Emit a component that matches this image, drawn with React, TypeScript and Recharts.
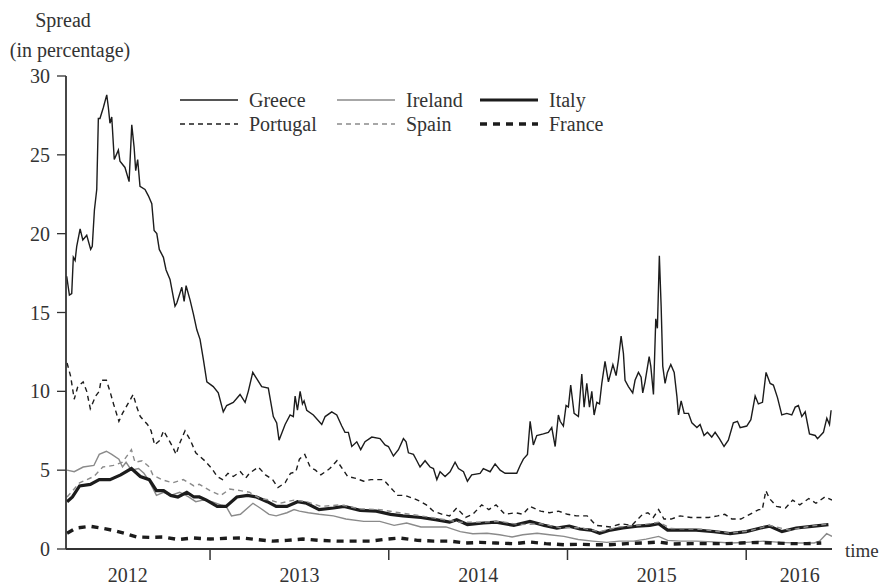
import React from 'react';
import { LineChart, Line, XAxis, YAxis } from 'recharts';

const FONT = 'Liberation Serif';
const TEXT = '#333333';
const BLACK = '#1c1c1c';
const GRAY = '#8a8a8a';

const yTicks = [0, 5, 10, 15, 20, 25, 30];
const yearLabels = ['2012', '2013', '2014', '2015', '2016'];
const yearLabelPos = [2012.54, 2013.5, 2014.5, 2015.5, 2016.3];
const yearBoundaries = [2013, 2014, 2015, 2016];
const xDomain = [2012.194, 2016.48];

const greece: number[][] = [[2012.198,17.3],[2012.213,16.1],[2012.226,16.2],[2012.235,18.5],[2012.245,18.3],[2012.254,19.2],[2012.273,20.3],[2012.288,19.6],[2012.310,19.9],[2012.332,19.0],[2012.341,19.2],[2012.353,21.5],[2012.366,22.8],[2012.375,27.3],[2012.384,27.3],[2012.403,28.0],[2012.422,28.8],[2012.431,28.0],[2012.440,27.0],[2012.450,27.4],[2012.464,24.7],[2012.487,25.3],[2012.496,24.6],[2012.524,24.2],[2012.547,23.3],[2012.562,26.9],[2012.575,25.5],[2012.584,24.0],[2012.595,24.7],[2012.608,23.0],[2012.636,22.8],[2012.655,22.4],[2012.674,21.9],[2012.687,20.2],[2012.702,20.0],[2012.716,19.0],[2012.739,18.5],[2012.754,17.7],[2012.776,17.1],[2012.804,15.4],[2012.814,15.6],[2012.842,16.6],[2012.855,15.7],[2012.866,16.7],[2012.888,15.8],[2012.907,14.9],[2012.926,13.9],[2012.944,13.3],[2012.963,12.0],[2012.982,10.6],[2013.018,10.3],[2013.046,9.9],[2013.074,8.7],[2013.093,9.1],[2013.130,9.3],[2013.168,9.8],[2013.196,9.3],[2013.214,10.0],[2013.239,11.2],[2013.261,10.8],[2013.289,10.3],[2013.326,10.2],[2013.354,8.4],[2013.373,8.0],[2013.386,6.9],[2013.420,7.9],[2013.448,8.5],[2013.466,8.4],[2013.476,9.7],[2013.489,8.8],[2013.504,10.0],[2013.517,9.2],[2013.526,9.4],[2013.541,8.8],[2013.578,8.5],[2013.625,7.9],[2013.644,8.4],[2013.681,8.7],[2013.709,8.5],[2013.737,7.8],[2013.755,7.4],[2013.774,7.4],[2013.793,6.5],[2013.821,6.8],[2013.843,6.3],[2013.867,6.8],[2013.905,7.1],[2013.951,7.0],[2013.979,6.6],[2013.998,6.5],[2014.026,5.9],[2014.054,6.3],[2014.082,7.0],[2014.097,6.8],[2014.110,6.1],[2014.138,6.0],[2014.157,5.6],[2014.175,5.2],[2014.203,5.6],[2014.231,5.2],[2014.250,5.1],[2014.269,4.4],[2014.287,4.9],[2014.315,4.6],[2014.343,4.9],[2014.371,5.5],[2014.390,5.1],[2014.418,4.9],[2014.440,4.3],[2014.464,4.7],[2014.511,4.8],[2014.529,5.1],[2014.567,4.9],[2014.595,5.4],[2014.623,5.0],[2014.651,4.8],[2014.679,4.8],[2014.716,4.8],[2014.735,5.3],[2014.753,5.7],[2014.776,6.0],[2014.791,8.1],[2014.809,6.6],[2014.828,7.2],[2014.865,7.3],[2014.893,7.4],[2014.912,7.7],[2014.931,6.5],[2014.949,8.5],[2014.959,8.1],[2014.977,7.8],[2014.992,9.1],[2015.005,9.0],[2015.018,10.4],[2015.037,8.6],[2015.061,8.4],[2015.080,11.1],[2015.093,9.0],[2015.108,10.5],[2015.123,9.0],[2015.136,10.0],[2015.149,8.5],[2015.164,9.3],[2015.179,9.2],[2015.192,10.5],[2015.210,11.9],[2015.229,10.6],[2015.254,11.7],[2015.272,11.0],[2015.285,12.0],[2015.300,13.5],[2015.313,12.4],[2015.322,10.7],[2015.341,10.3],[2015.365,9.9],[2015.378,10.7],[2015.397,11.2],[2015.412,10.9],[2015.421,9.9],[2015.434,10.6],[2015.457,12.2],[2015.466,11.6],[2015.481,9.8],[2015.494,14.6],[2015.503,14.0],[2015.514,18.6],[2015.524,15.4],[2015.533,11.6],[2015.546,10.5],[2015.559,11.2],[2015.578,11.7],[2015.597,11.2],[2015.612,9.7],[2015.621,8.5],[2015.636,9.4],[2015.653,8.6],[2015.677,8.6],[2015.696,8.0],[2015.724,7.7],[2015.742,7.9],[2015.764,7.2],[2015.783,7.4],[2015.807,7.1],[2015.826,7.4],[2015.850,7.0],[2015.876,6.5],[2015.900,6.9],[2015.928,8.0],[2015.951,8.1],[2015.966,7.7],[2016.003,7.8],[2016.026,8.2],[2016.050,9.7],[2016.068,9.2],[2016.091,9.3],[2016.111,11.2],[2016.134,10.5],[2016.152,10.4],[2016.175,9.6],[2016.199,8.5],[2016.227,8.6],[2016.255,8.5],[2016.274,9.0],[2016.292,9.1],[2016.311,8.4],[2016.330,8.7],[2016.354,7.3],[2016.386,7.2],[2016.399,7.0],[2016.432,7.4],[2016.451,8.3],[2016.466,7.9],[2016.475,8.8]];

const portugal: number[][] = [[2012.20,11.8],[2012.22,10.95],[2012.24,9.5],[2012.26,10.3],[2012.29,10.6],[2012.31,10.0],[2012.33,8.9],[2012.36,9.7],[2012.38,10.0],[2012.39,10.7],[2012.42,10.7],[2012.44,10.0],[2012.46,9.2],[2012.49,8.1],[2012.51,8.6],[2012.54,9.2],[2012.57,9.8],[2012.59,9.0],[2012.61,8.4],[2012.65,7.9],[2012.67,7.5],[2012.69,6.6],[2012.72,6.9],[2012.74,7.5],[2012.77,6.9],[2012.79,6.5],[2012.81,6.0],[2012.83,6.7],[2012.86,7.5],[2012.89,6.9],[2012.92,6.1],[2012.94,5.9],[2012.97,5.6],[2013.01,5.1],[2013.04,4.6],[2013.07,4.4],[2013.10,4.8],[2013.13,4.6],[2013.17,4.9],[2013.20,4.5],[2013.22,4.8],[2013.27,5.2],[2013.31,4.7],[2013.35,4.4],[2013.38,3.9],[2013.42,4.2],[2013.45,4.8],[2013.48,4.9],[2013.50,5.7],[2013.53,6.0],[2013.56,5.2],[2013.59,5.0],[2013.62,4.7],[2013.67,5.1],[2013.71,5.6],[2013.74,5.1],[2013.77,4.6],[2013.81,4.5],[2013.86,4.3],[2013.90,4.4],[2013.97,4.4],[2014.01,3.9],[2014.05,3.4],[2014.09,3.4],[2014.14,3.2],[2014.18,3.0],[2014.21,2.8],[2014.25,2.4],[2014.30,2.2],[2014.34,2.1],[2014.38,2.6],[2014.43,2.0],[2014.47,2.2],[2014.52,2.8],[2014.56,2.5],[2014.60,2.8],[2014.65,2.2],[2014.71,2.3],[2014.75,2.2],[2014.79,2.7],[2014.85,2.4],[2014.90,2.3],[2014.95,2.4],[2015.00,2.2],[2015.05,2.1],[2015.11,2.1],[2015.16,1.5],[2015.24,1.4],[2015.30,1.6],[2015.36,1.5],[2015.42,2.2],[2015.45,2.3],[2015.48,2.0],[2015.51,2.5],[2015.54,1.9],[2015.58,1.9],[2015.63,2.1],[2015.69,2.0],[2015.73,2.0],[2015.79,2.0],[2015.84,2.1],[2015.88,2.2],[2015.92,1.9],[2015.97,1.9],[2016.02,2.2],[2016.07,2.5],[2016.09,2.5],[2016.11,3.7],[2016.13,3.2],[2016.17,2.7],[2016.22,2.6],[2016.26,3.1],[2016.30,2.8],[2016.35,3.2],[2016.39,2.9],[2016.44,3.3],[2016.48,3.1]];

const ireland: number[][] = [[2012.20,5.0],[2012.24,4.9],[2012.29,5.2],[2012.35,5.3],[2012.38,6.0],[2012.42,6.2],[2012.45,6.0],[2012.49,5.7],[2012.51,5.2],[2012.53,5.5],[2012.56,5.0],[2012.60,5.1],[2012.63,4.8],[2012.66,4.3],[2012.70,3.4],[2012.74,3.6],[2012.78,3.4],[2012.83,3.6],[2012.88,3.3],[2012.92,3.0],[2012.96,3.1],[2013.01,3.0],[2013.06,2.8],[2013.09,2.7],[2013.12,2.1],[2013.17,2.2],[2013.21,2.6],[2013.24,2.9],[2013.28,2.6],[2013.33,2.2],[2013.37,2.1],[2013.43,2.3],[2013.47,2.5],[2013.50,2.4],[2013.55,2.3],[2013.61,2.2],[2013.69,2.1],[2013.76,1.9],[2013.86,1.75],[2013.95,1.75],[2014.03,1.5],[2014.10,1.65],[2014.18,1.4],[2014.25,1.4],[2014.32,1.4],[2014.40,1.1],[2014.47,0.97],[2014.55,1.0],[2014.62,0.9],[2014.69,0.76],[2014.75,0.9],[2014.83,1.0],[2014.90,0.9],[2014.98,0.8],[2015.06,0.6],[2015.14,0.5],[2015.22,0.42],[2015.29,0.5],[2015.37,0.5],[2015.44,0.63],[2015.51,0.8],[2015.56,0.55],[2015.63,0.5],[2015.72,0.5],[2015.82,0.45],[2015.91,0.38],[2016.00,0.42],[2016.10,0.5],[2016.19,0.42],[2016.28,0.38],[2016.38,0.38],[2016.41,0.5],[2016.45,0.97],[2016.48,0.8]];

const italy: number[][] = [[2012.20,3.0],[2012.23,3.3],[2012.27,4.0],[2012.33,4.1],[2012.38,4.4],[2012.44,4.4],[2012.50,4.7],[2012.56,5.1],[2012.61,4.6],[2012.66,4.4],[2012.70,3.7],[2012.74,3.7],[2012.78,3.4],[2012.82,3.3],[2012.87,3.6],[2012.91,3.3],[2012.94,3.3],[2012.98,3.1],[2013.04,2.7],[2013.09,2.7],[2013.15,3.3],[2013.21,3.4],[2013.26,3.3],[2013.32,3.0],[2013.37,2.7],[2013.43,2.7],[2013.49,3.0],[2013.54,2.9],[2013.61,2.5],[2013.69,2.6],[2013.75,2.7],[2013.84,2.45],[2013.93,2.4],[2014.01,2.2],[2014.08,2.1],[2014.18,2.0],[2014.27,1.85],[2014.34,1.7],[2014.38,1.85],[2014.44,1.55],[2014.53,1.65],[2014.60,1.7],[2014.70,1.5],[2014.79,1.75],[2014.87,1.5],[2014.94,1.33],[2015.01,1.45],[2015.07,1.27],[2015.13,1.2],[2015.18,1.0],[2015.24,1.2],[2015.31,1.33],[2015.39,1.45],[2015.46,1.5],[2015.51,1.6],[2015.56,1.2],[2015.63,1.2],[2015.72,1.2],[2015.82,1.1],[2015.91,0.97],[2016.00,1.1],[2016.08,1.33],[2016.13,1.45],[2016.20,1.1],[2016.28,1.33],[2016.38,1.45],[2016.46,1.55]];

const spain: number[][] = [[2012.20,3.3],[2012.27,4.2],[2012.35,4.6],[2012.40,5.2],[2012.46,5.3],[2012.51,5.5],[2012.56,6.3],[2012.58,5.5],[2012.62,5.6],[2012.66,5.2],[2012.68,4.7],[2012.73,4.4],[2012.79,4.2],[2012.85,4.4],[2012.91,4.0],[2012.94,4.1],[2013.00,3.7],[2013.06,3.4],[2013.11,3.8],[2013.17,3.7],[2013.22,3.6],[2013.28,3.2],[2013.34,3.1],[2013.39,2.9],[2013.47,3.1],[2013.54,3.0],[2013.62,2.7],[2013.73,2.8],[2013.84,2.55],[2013.95,2.5],[2014.06,2.3],[2014.18,2.1],[2014.29,1.9],[2014.40,1.7],[2014.51,1.7],[2014.62,1.75],[2014.73,1.55],[2014.85,1.6],[2014.96,1.35],[2015.07,1.35],[2015.18,1.1],[2015.29,1.4],[2015.40,1.5],[2015.51,1.7],[2015.58,1.3],[2015.75,1.25],[2015.91,1.0],[2016.02,1.15],[2016.13,1.5],[2016.24,1.2],[2016.36,1.45],[2016.47,1.6]];

const france: number[][] = [[2012.20,1.0],[2012.25,1.33],[2012.33,1.44],[2012.39,1.33],[2012.46,1.18],[2012.52,1.0],[2012.59,0.76],[2012.66,0.74],[2012.74,0.76],[2012.82,0.6],[2012.91,0.7],[2013.00,0.63],[2013.09,0.68],[2013.18,0.7],[2013.26,0.6],[2013.35,0.5],[2013.43,0.55],[2013.52,0.63],[2013.61,0.55],[2013.71,0.5],[2013.80,0.5],[2013.90,0.5],[2013.99,0.63],[2014.06,0.7],[2014.16,0.55],[2014.25,0.5],[2014.34,0.5],[2014.43,0.38],[2014.51,0.42],[2014.60,0.38],[2014.70,0.34],[2014.79,0.44],[2014.88,0.34],[2014.98,0.27],[2015.07,0.3],[2015.14,0.27],[2015.24,0.27],[2015.33,0.34],[2015.42,0.38],[2015.51,0.44],[2015.59,0.32],[2015.69,0.34],[2015.78,0.34],[2015.88,0.34],[2015.97,0.38],[2016.06,0.42],[2016.15,0.38],[2016.25,0.34],[2016.34,0.34],[2016.42,0.38]];

const toRows = (arr: number[][]) => arr.map(([t, v]) => ({ t, v }));

const seriesNames = ['Greece', 'Ireland', 'Italy', 'Portugal', 'Spain', 'France'];
const seriesData = [greece, ireland, italy, portugal, spain, france];
const seriesStyle = [
  { stroke: BLACK, width: 1.4, dash: undefined },
  { stroke: GRAY, width: 1.4, dash: undefined },
  { stroke: BLACK, width: 3.2, dash: undefined },
  { stroke: BLACK, width: 1.4, dash: '5 4' },
  { stroke: GRAY, width: 1.4, dash: '5 4' },
  { stroke: BLACK, width: 3.4, dash: '7 6' },
];
// legend layout (columns x, rows y)
const legendCols = [180, 337, 480];
const legendRows = [100, 124];

const XTick = (props: any) => {
  const { x, y, payload } = props;
  const li = yearLabelPos.indexOf(payload.value);
  if (li >= 0) {
    return (
      <text x={x} y={y + 33} textAnchor="middle" style={{ fontFamily: FONT, fontSize: 20 }} fill={TEXT}>
        {yearLabels[li]}
      </text>
    );
  }
  return <line x1={x} y1={y} x2={x} y2={y + 11} stroke="#333" strokeWidth={1.5} />;
};

const abs = (left: number, top: number, extra: any = {}) => ({
  position: 'absolute' as const,
  left,
  top,
  fontFamily: FONT,
  fontSize: 20,
  color: TEXT,
  lineHeight: 1,
  whiteSpace: 'nowrap' as const,
  ...extra,
});

export default function App() {
  return (
    <div style={{ position: 'relative', width: 884, height: 587, background: '#fff', fontFamily: FONT }}>
      <style>{'body{margin:0;}'}</style>
      <LineChart width={884} height={587} margin={{ top: 76, right: 52, bottom: 0, left: 0 }} style={{ fontFamily: FONT }}>
        <XAxis
          type="number"
          dataKey="t"
          domain={xDomain}
          allowDataOverflow
          ticks={[...yearLabelPos, ...yearBoundaries].sort((a, b) => a - b)}
          interval={0}
          tick={<XTick />}
          tickLine={false}
          tickSize={0}
          tickMargin={0}
          height={38}
          axisLine={{ stroke: '#333', strokeWidth: 1.8 }}
        />
        <YAxis
          type="number"
          domain={[0, 30]}
          ticks={yTicks}
          interval={0}
          width={66}
          tickSize={9}
          tickMargin={7}
          tick={{ fontFamily: FONT, fontSize: 20, fill: TEXT, style: { fontFamily: FONT } }}
          tickLine={{ stroke: '#333', strokeWidth: 1.3 }}
          axisLine={{ stroke: '#333', strokeWidth: 1.8 }}
        />
        {seriesNames.map((name, i) => (
          <Line
            key={name}
            name={name}
            data={toRows(seriesData[i])}
            dataKey="v"
            type="linear"
            stroke={seriesStyle[i].stroke}
            strokeWidth={seriesStyle[i].width}
            strokeDasharray={seriesStyle[i].dash}
            dot={false}
            activeDot={false}
            isAnimationActive={false}
          />
        ))}
      </LineChart>

      <div style={abs(63, 20, { transform: 'translate(-50%, -50%)' })}>Spread</div>
      <div style={abs(70, 50, { transform: 'translate(-50%, -50%)' })}>(in percentage)</div>
      <div style={abs(845, 550, { transform: 'translateY(-50%)', fontSize: 19 })}>time</div>

      {seriesNames.map((name, i) => {
        const col = i % 3;
        const row = Math.floor(i / 3);
        const lx = legendCols[col];
        const ly = legendRows[row];
        const st = seriesStyle[i];
        return (
          <React.Fragment key={'lg' + name}>
            <svg style={{ position: 'absolute', left: lx, top: ly - 5 }} width={58} height={10}>
              <line x1={0} y1={5} x2={58} y2={5} stroke={st.stroke} strokeWidth={st.width} strokeDasharray={st.dash} />
            </svg>
            <div style={abs(lx + 69, ly, { transform: 'translateY(-50%)' })}>{name}</div>
          </React.Fragment>
        );
      })}
    </div>
  );
}
